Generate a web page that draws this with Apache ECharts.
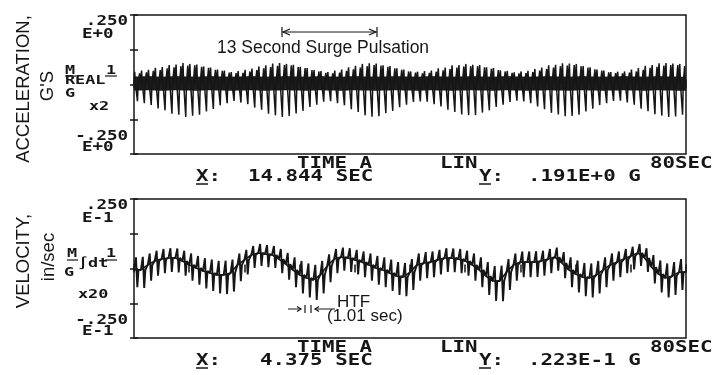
<!DOCTYPE html>
<html>
<head>
<meta charset="utf-8">
<script src="https://cdn.jsdelivr.net/npm/echarts@6/dist/echarts.min.js"></script>
<style>
html, body { margin: 0; padding: 0; background: #fff; }
#chart { width: 725px; height: 375px; }
</style>
</head>
<body>
<div id="chart"></div>
<script>
// acceleration, G : per second, main upper spike, lower spike, second upper spike, band level
const accPeak = [
  0.046, 0.050, 0.053, 0.060, 0.063, 0.070, 0.072, 0.077, 0.074, 0.072,
  0.065, 0.061, 0.054, 0.050, 0.045, 0.048, 0.053, 0.057, 0.065, 0.069,
  0.075, 0.077, 0.074, 0.071, 0.064, 0.059, 0.052, 0.048, 0.045, 0.050,
  0.054, 0.062, 0.067, 0.074, 0.076, 0.075, 0.069, 0.066, 0.058, 0.054,
  0.047, 0.046, 0.048, 0.050, 0.058, 0.061, 0.069, 0.070, 0.074, 0.071,
  0.070, 0.062, 0.059, 0.051, 0.049, 0.044, 0.047, 0.049, 0.056, 0.061,
  0.069, 0.071, 0.076, 0.075, 0.074, 0.066, 0.062, 0.054, 0.050, 0.045,
  0.046, 0.047, 0.054, 0.059, 0.067, 0.070, 0.076, 0.077, 0.075, 0.074
];
const accPeakB = [
  0.040, 0.044, 0.049, 0.052, 0.058, 0.062, 0.066, 0.068, 0.069, 0.064,
  0.060, 0.053, 0.049, 0.043, 0.041, 0.042, 0.047, 0.052, 0.058, 0.063,
  0.067, 0.070, 0.069, 0.063, 0.059, 0.052, 0.047, 0.042, 0.040, 0.043,
  0.049, 0.055, 0.061, 0.066, 0.070, 0.068, 0.064, 0.058, 0.053, 0.047,
  0.043, 0.040, 0.042, 0.046, 0.051, 0.056, 0.061, 0.065, 0.066, 0.066,
  0.062, 0.057, 0.052, 0.047, 0.042, 0.040, 0.041, 0.045, 0.050, 0.056,
  0.061, 0.066, 0.068, 0.070, 0.066, 0.061, 0.055, 0.050, 0.044, 0.041,
  0.040, 0.043, 0.047, 0.053, 0.060, 0.064, 0.068, 0.070, 0.070, 0.066
];
const accTrough = [
  -0.060, -0.067, -0.074, -0.086, -0.093, -0.105, -0.109, -0.117, -0.112, -0.109,
  -0.097, -0.088, -0.075, -0.067, -0.059, -0.065, -0.071, -0.083, -0.091, -0.105,
  -0.111, -0.117, -0.113, -0.104, -0.095, -0.081, -0.073, -0.062, -0.060, -0.067,
  -0.075, -0.089, -0.099, -0.111, -0.116, -0.114, -0.103, -0.095, -0.082, -0.073,
  -0.063, -0.061, -0.062, -0.071, -0.079, -0.091, -0.099, -0.108, -0.110, -0.110,
  -0.101, -0.093, -0.081, -0.073, -0.063, -0.058, -0.061, -0.067, -0.079, -0.089,
  -0.102, -0.108, -0.114, -0.113, -0.109, -0.097, -0.087, -0.074, -0.067, -0.059,
  -0.058, -0.065, -0.073, -0.087, -0.096, -0.107, -0.112, -0.117, -0.115, -0.109
];
const accMid = [
  0.004, 0.004, 0.005, 0.004, 0.003, 0.004, 0.005, 0.004, 0.004, 0.003,
  0.004, 0.005, 0.004, 0.004, 0.003, 0.004, 0.004, 0.005, 0.004, 0.003,
  0.004, 0.004, 0.005, 0.004, 0.004, 0.003, 0.004, 0.005, 0.004, 0.004,
  0.003, 0.004, 0.005, 0.004, 0.004, 0.003, 0.004, 0.004, 0.005, 0.004,
  0.004, 0.003, 0.004, 0.005, 0.004, 0.004, 0.003, 0.004, 0.004, 0.005,
  0.004, 0.004, 0.003, 0.004, 0.005, 0.004, 0.004, 0.003, 0.004, 0.004,
  0.005, 0.004, 0.004, 0.003, 0.004, 0.005, 0.004, 0.004, 0.003, 0.004,
  0.004, 0.005, 0.004, 0.004, 0.003, 0.004, 0.005, 0.004, 0.004, 0.003
];

// velocity, in/sec : slow 13 s wave plus one spike per second (HTF)
const velBase = [
  -0.0005, -0.0005, 0.0013, 0.0027, 0.0034, 0.0038, 0.0038, 0.0027, 0.0013, 0.0002,
  -0.0009, -0.0016, -0.0023, -0.0023, -0.0016, 0.0013, 0.0031, 0.0049, 0.0056, 0.0052,
  0.0049, 0.0034, 0.0016, -0.0005, -0.0023, -0.0034, -0.0041, -0.0023, 0.0009, 0.0034,
  0.0041, 0.0038, 0.0031, 0.0023, 0.0013, 0.0002, -0.0005, -0.0016, -0.0027, -0.0031,
  -0.0013, 0.0013, 0.0020, 0.0023, 0.0031, 0.0038, 0.0038, 0.0034, 0.0027, 0.0013,
  -0.0005, -0.0027, -0.0045, -0.0045, -0.0013, 0.0013, 0.0023, 0.0023, 0.0023, 0.0027,
  0.0034, 0.0041, 0.0020, -0.0005, -0.0020, -0.0031, -0.0034, -0.0023, -0.0005, 0.0013,
  0.0023, 0.0034, 0.0045, 0.0056, 0.0038, 0.0005, -0.0020, -0.0034, -0.0027, -0.0013
];
const velTop = [
  0.0040, 0.0042, 0.0054, 0.0064, 0.0070, 0.0073, 0.0072, 0.0064, 0.0054, 0.0045,
  0.0037, 0.0032, 0.0027, 0.0028, 0.0032, 0.0054, 0.0067, 0.0081, 0.0088, 0.0084,
  0.0081, 0.0070, 0.0056, 0.0040, 0.0027, 0.0018, 0.0013, 0.0027, 0.0051, 0.0070,
  0.0075, 0.0073, 0.0067, 0.0061, 0.0054, 0.0045, 0.0040, 0.0032, 0.0023, 0.0020,
  0.0034, 0.0054, 0.0059, 0.0061, 0.0067, 0.0073, 0.0072, 0.0070, 0.0064, 0.0054,
  0.0040, 0.0023, 0.0009, 0.0010, 0.0034, 0.0054, 0.0061, 0.0061, 0.0062, 0.0064,
  0.0070, 0.0075, 0.0059, 0.0040, 0.0029, 0.0020, 0.0018, 0.0027, 0.0040, 0.0054,
  0.0061, 0.0070, 0.0078, 0.0088, 0.0073, 0.0048, 0.0029, 0.0018, 0.0023, 0.0034
];
const velBottom = [
  -0.0067, -0.0070, -0.0044, -0.0026, -0.0017, -0.0012, -0.0014, -0.0026, -0.0044, -0.0058,
  -0.0072, -0.0081, -0.0090, -0.0092, -0.0083, -0.0046, -0.0021, 0.0002, 0.0009, 0.0005,
  0.0002, -0.0017, -0.0040, -0.0067, -0.0090, -0.0104, -0.0113, -0.0090, -0.0049, -0.0017,
  -0.0008, -0.0012, -0.0021, -0.0031, -0.0044, -0.0058, -0.0067, -0.0081, -0.0095, -0.0100,
  -0.0077, -0.0044, -0.0035, -0.0031, -0.0021, -0.0012, -0.0013, -0.0017, -0.0026, -0.0044,
  -0.0067, -0.0095, -0.0117, -0.0118, -0.0077, -0.0044, -0.0031, -0.0031, -0.0030, -0.0026,
  -0.0017, -0.0008, -0.0035, -0.0067, -0.0086, -0.0100, -0.0104, -0.0090, -0.0067, -0.0044,
  -0.0031, -0.0017, -0.0003, 0.0009, -0.0012, -0.0054, -0.0086, -0.0104, -0.0095, -0.0077
];

// scale and readout texts
const accScale = ['.250', 'E+0', '-.250', 'E+0'];
const velScale = ['.250', 'E-1', '-.250', 'E-1'];
const footer = ['TIME A', 'LIN', '80SEC'];
const accReadout = ['14.844 SEC', '.191E+0 G'];
const velReadout = ['4.375 SEC', '.223E-1 G'];

const INK = '#161616';

const accLine = [];
accPeak.forEach((p, i) => {
  const m = accMid[i];
  accLine.push(
    [i, m], [i + 0.1, p], [i + 0.2, m],
    [i + 0.4, m], [i + 0.5, accTrough[i]], [i + 0.6, m],
    [i + 0.72, m], [i + 0.8, accPeakB[i]], [i + 0.88, m]
  );
});
accLine.push([80, accMid[79]]);
const accBand = accMid.map((v, i) => [i, v]);
accBand.push([80, accMid[79]]);

const velLine = [];
velBase.forEach((b, i) => {
  velLine.push([i, b], [i + 0.28, velTop[i]], [i + 0.48, velBottom[i]], [i + 0.65, b]);
});
velLine.push([80, velBase[79]]);
const velBaseLine = velBase.map((v, i) => [i, v]);
velBaseLine.push([80, velBase[79]]);

const tick = { show: true, inside: true, length: 4, lineStyle: { color: INK, width: 1.5 } };
const xAx = (gi, position) => ({
  gridIndex: gi, type: 'value', min: 0, max: 80, interval: 8, position,
  axisLine: { show: false }, axisTick: tick, axisLabel: { show: false }, splitLine: { show: false }
});
const yAx = (gi, position, lim) => ({
  gridIndex: gi, type: 'value', min: -lim, max: lim, interval: lim / 2, position,
  axisLine: { show: false }, axisTick: tick, axisLabel: { show: false }, splitLine: { show: false }
});

const mono = (x, y, text, size, sx, align) => ({
  type: 'text', x, y, scaleX: sx,
  style: { text, font: 'bold ' + size + 'px "DejaVu Sans Mono"', fill: INK, align: align || 'left', verticalAlign: 'middle' }
});
const sans = (x, y, text, size, rot, align) => ({
  type: 'text', x, y, rotation: rot || 0,
  style: { text, font: size + 'px "Liberation Sans"', fill: INK, align: align || 'left', verticalAlign: 'middle' }
});
const seg = (x1, y1, x2, y2, w) => ({
  type: 'line', shape: { x1, y1, x2, y2 }, style: { stroke: INK, lineWidth: w || 1.2 }
});
const poly = (points, w) => ({
  type: 'polyline', shape: { points }, style: { stroke: INK, lineWidth: w || 1.2, fill: null }
});

function panelText(top, scale, readout) {
  const b = top + 139;
  return [
    mono(128, top + 6, scale[0], 14, 1.25, 'right'),
    mono(82, top + 19, scale[1], 14, 1.25),
    mono(128, b - 18, scale[2], 14, 1.25, 'right'),
    mono(82, b - 7, scale[3], 14, 1.25),
    mono(297, b + 10, footer[0], 16, 1.3),
    mono(440, b + 10, footer[1], 16, 1.3),
    mono(650, b + 10, footer[2], 16, 1.3),
    mono(196, b + 23, 'X:', 16, 1.3),
    seg(196, b + 30, 208, b + 30, 1.5),
    mono(readout[0].length === 10 ? 248 : 260, b + 23, readout[0], 16, 1.3),
    mono(479, b + 23, 'Y:', 16, 1.3),
    seg(479, b + 30, 491, b + 30, 1.5),
    mono(528, b + 23, readout[1], 16, 1.3)
  ];
}

const graphics = [
  sans(24, 89, 'ACCELERATION,', 18.5, Math.PI / 2, 'center'),
  sans(48, 86, "G'S", 18.5, Math.PI / 2, 'center'),
  sans(24, 261, 'VELOCITY,', 18.5, Math.PI / 2, 'center'),
  sans(49, 257, 'in/sec', 18.5, Math.PI / 2, 'center'),

  mono(65, 71, 'M', 12, 1.4), seg(65, 76, 76, 76),
  mono(106, 71, '1', 12, 1.4), seg(105, 76, 117, 76),
  mono(65, 81, 'REAL', 12, 1.4),
  mono(65, 94, 'G', 12, 1.4),
  mono(89, 107, 'x2', 12, 1.4),

  mono(67, 254, 'M', 12, 1.4), seg(67, 260, 78, 260),
  mono(106, 254, '1', 12, 1.4), seg(105, 260, 117, 260),
  mono(78, 264, '\u222Bdt', 12, 1.4),
  mono(64, 273, 'G', 12, 1.4),
  mono(78, 295, 'x20', 12, 1.4),

  sans(217, 48, '13 Second Surge Pulsation', 17.5),
  seg(282, 27, 282, 37), seg(283, 32, 376, 32, 1),
  poly([[290, 29], [283, 32], [290, 35]]), poly([[369, 29], [376, 32], [369, 35]]),
  seg(377, 27, 377, 37),

  sans(337, 302, 'HTF', 17),
  sans(327, 316, '(1.01 sec)', 17),
  seg(288, 309, 301, 309, 1), poly([[297, 306.5], [301, 309], [297, 311.5]]),
  seg(305, 305, 305, 313), seg(311, 305, 311, 313),
  seg(315, 309, 335, 309, 1), poly([[319, 306.5], [315, 309], [319, 311.5]])
].concat(panelText(15, accScale, accReadout), panelText(199, velScale, velReadout));

const chart = echarts.init(document.getElementById('chart'), null, { renderer: 'canvas' });
chart.setOption({
  animation: false,
  backgroundColor: '#fff',
  grid: [
    { left: 134, top: 15, width: 552, height: 139, show: true, borderColor: INK, borderWidth: 1.5 },
    { left: 134, top: 199, width: 552, height: 139, show: true, borderColor: INK, borderWidth: 1.5 }
  ],
  xAxis: [xAx(0, 'bottom'), xAx(0, 'top'), xAx(1, 'bottom'), xAx(1, 'top')],
  yAxis: [yAx(0, 'left', 0.25), yAx(0, 'right', 0.25), yAx(1, 'left', 0.025), yAx(1, 'right', 0.025)],
  series: [
    {
      type: 'line', xAxisIndex: 0, yAxisIndex: 0, data: accBand, symbol: 'none',
      lineStyle: { color: '#1c1c1c', width: 14 }, silent: true
    },
    {
      type: 'line', xAxisIndex: 0, yAxisIndex: 0, data: accLine, symbol: 'none',
      lineStyle: { color: INK, width: 1.5 }, silent: true
    },
    {
      type: 'line', xAxisIndex: 2, yAxisIndex: 2, data: velBaseLine, symbol: 'none',
      lineStyle: { color: INK, width: 1.6 }, silent: true
    },
    {
      type: 'line', xAxisIndex: 2, yAxisIndex: 2, data: velLine, symbol: 'none',
      lineStyle: { color: INK, width: 1.9 }, silent: true
    }
  ],
  graphic: graphics
});
</script>
</body>
</html>
